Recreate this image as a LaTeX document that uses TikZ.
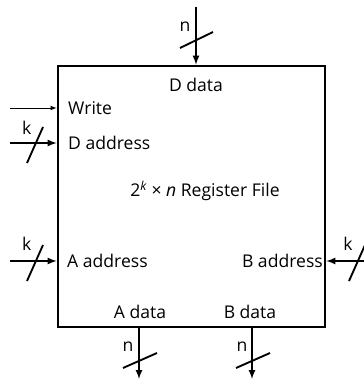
\documentclass[tikz,border=0pt]{standalone}
\usepackage{fontspec}
\setmainfont{Open Sans}
\usetikzlibrary{arrows,calc,positioning}

\begin{document}
\begin{tikzpicture}[
  every node/.style={font=\fontsize{15}{18}\selectfont, inner sep=0pt},
  regbox/.style={draw, line width=2.4pt, minimum width=8.01cm, minimum height=7.83cm},
  bus/.style={->, >=latex, line width=1.6pt},
  wire/.style={->, >=latex, line width=0.8pt},
  slash/.style={line width=1.6pt},
  lbl/.style={font=\fontsize{15}{18}\selectfont},
]
\useasboundingbox (0,0) rectangle (10.92,11.37);

%% -- Register file box
\node[regbox] (rf) at (5.745, 5.475) {};
\node (title) at (6.15, 5.64) {2\textsuperscript{\itshape k} × \textit{n} Register File};

%% -- Port labels
\node[lbl] (ddata) at (5.88, 8.82) {D data};
\node[lbl, anchor=west] (write) at (2.04, 8.13) {Write};
\node[lbl, anchor=west] (daddr) at (2.04, 7.08) {D address};
\node[lbl, anchor=west] (aaddr) at (2.01, 3.54) {A address};
\node[lbl, anchor=east] (baddr) at (9.69, 3.54) {B address};
\node[lbl] (adata) at (4.2, 2.01) {A data};
\node[lbl] (bdata) at (7.5, 2.01) {B data};

%% -- Free ends
\coordinate (dtop)  at (5.88, 11.16);
\coordinate (wrin)  at (0.3, 8.13);
\coordinate (dain)  at (0.3, 7.08);
\coordinate (aain)  at (0.3, 3.54);
\coordinate (bain)  at (11.1, 3.54);
\coordinate (aout)  at (4.17, 0);
\coordinate (bout)  at (7.56, 0);

%% -- Connectors
\draw[bus]  (dtop) -- (dtop |- rf.north);
\draw[wire] (wrin) -- (rf.west |- wrin);
\draw[bus]  (dain) -- (rf.west |- dain);
\draw[bus]  (aain) -- (rf.west |- aain);
\draw[bus]  (bain) -- (rf.east |- bain);
\draw[bus]  (aout |- rf.south) -- (aout);
\draw[bus]  (bout |- rf.south) -- (bout);

%% -- Bus width marks
\draw[slash] (5.4, 9.93)  -- (6.39, 10.41);
\draw[slash] (0.81, 6.48) -- (1.29, 7.56);
\draw[slash] (0.81, 2.94) -- (1.29, 4.02);
\draw[slash] (10.47, 2.94) -- (10.95, 4.02);
\draw[slash] (3.69, 0.33) -- (4.71, 0.78);
\draw[slash] (7.08, 0.33) -- (8.1, 0.78);

\node[lbl] (ntop) at (5.55, 10.56) {n};
\node[lbl] (kd)   at (0.8, 7.55)   {k};
\node[lbl] (ka)   at (0.8, 4.06)   {k};
\node[lbl] (kb)   at (10.44, 4.06) {k};
\node[lbl] (na)   at (3.84, 0.96)  {n};
\node[lbl] (nb)   at (7.26, 0.96)  {n};
\end{tikzpicture}
\end{document}
